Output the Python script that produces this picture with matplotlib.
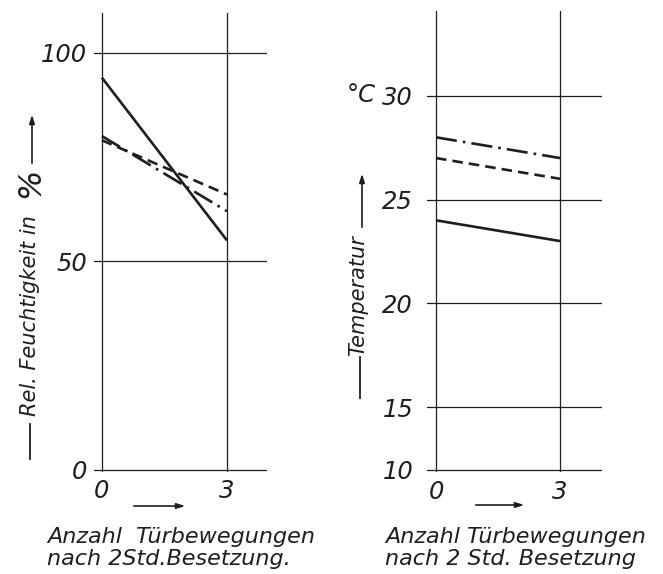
import numpy as np
import matplotlib
matplotlib.use("Agg")
import matplotlib.pyplot as plt
from matplotlib.lines import Line2D
from matplotlib.patches import FancyArrowPatch

# ---- data ----
x_vals = [0, 3]
x_ticklabels = ["0", "3"]

hum_solid = [94, 55]
hum_dashdot = [80, 62]
hum_dashed = [79, 66]
hum_ticks = [0, 50, 100]
hum_ticklabels = ["0", "50", "100"]

temp_dashdot = [28, 27]
temp_dashed = [27, 26]
temp_solid = [24, 23]
temp_ticks = [10, 15, 20, 25, 30]
temp_ticklabels = ["10", "15", "20", "25", "30"]

xlabel_left = "Anzahl  Türbewegungen\nnach 2Std.Besetzung."
xlabel_right = "Anzahl Türbewegungen\nnach 2 Std. Besetzung"
ylabel_left = "Rel. Feuchtigkeit in"
ylabel_right = "Temperatur"

# ---- style ----
W, H = 663, 574
INK = "#1e1e1e"
FONT = dict(family="DejaVu Sans", style="italic", color=INK)
plt.rcParams["font.family"] = ["DejaVu Sans"]

fig = plt.figure(figsize=(W / 100, H / 100), dpi=100)
fig.patch.set_facecolor("white")


def fx(x):
    return x / W


def fy(y):
    return 1 - y / H


def ax_rect(x0, x1, y_top, y_bot):
    return [fx(x0), fy(y_bot), (x1 - x0) / W, (y_bot - y_top) / H]


grid_kw = dict(color=INK, lw=0.9)
data_kw = dict(color=INK, lw=1.9, solid_capstyle="butt", dash_capstyle="butt")

# ---------------- left panel ----------------
axL = fig.add_axes(ax_rect(94, 267, 13, 472))
axL.set_xlim(-0.19, 3.96)
axL.set_ylim(-0.5, 109.5)
for v in hum_ticks:
    axL.axhline(v, **grid_kw)
for v in x_vals:
    axL.axvline(v, **grid_kw)
axL.plot(x_vals, hum_solid, ls="-", **data_kw)
axL.plot(x_vals, hum_dashdot, dashes=(8, 2.3, 1, 2.3), **data_kw)
axL.plot(x_vals, hum_dashed, dashes=(4, 2.3), **data_kw)
axL.set_yticks(hum_ticks)
axL.set_yticklabels(hum_ticklabels, fontsize=17.5, **FONT)
axL.set_xticks(x_vals)
axL.set_xticklabels(x_ticklabels, fontsize=17.5, **FONT)
axL.tick_params(axis="y", length=0, pad=5)
axL.tick_params(axis="x", length=0, pad=5)
for s in axL.spines.values():
    s.set_visible(False)
axL.patch.set_alpha(0)

# ---------------- right panel ----------------
def fwd(v):
    v = np.asarray(v, dtype=float)
    return np.where(v < 15, 15 - (15 - v) * 0.606, v)


def inv(t):
    t = np.asarray(t, dtype=float)
    return np.where(t < 15, 15 - (15 - t) / 0.606, t)


axR = fig.add_axes(ax_rect(427, 602, 10.7, 472))
axR.set_yscale("function", functions=(fwd, inv))
axR.set_xlim(-0.218, 4.016)
axR.set_ylim(9.84, 34.1)
for v in temp_ticks:
    axR.axhline(v, **grid_kw)
for v in x_vals:
    axR.axvline(v, **grid_kw)
axR.plot(x_vals, temp_dashdot, dashes=(8, 2.3, 1, 2.3), **data_kw)
axR.plot(x_vals, temp_dashed, dashes=(4, 2.3), **data_kw)
axR.plot(x_vals, temp_solid, ls="-", **data_kw)
axR.set_yticks(temp_ticks)
axR.set_yticklabels(temp_ticklabels, fontsize=17.5, **FONT)
axR.yaxis.set_minor_locator(matplotlib.ticker.NullLocator())
axR.set_xticks(x_vals)
axR.set_xticklabels(x_ticklabels, fontsize=17.5, **FONT)
axR.tick_params(axis="y", length=0, pad=10)
axR.tick_params(axis="x", length=0, pad=6)
for s in axR.spines.values():
    s.set_visible(False)
axR.patch.set_alpha(0)

fig.text(fx(361), fy(95), "°C", fontsize=17.5, ha="center", va="center", **FONT)

# ---------------- axis titles ----------------
fig.text(fx(47), fy(548), xlabel_left, fontsize=16, ha="left", va="center",
         linespacing=1.15, **FONT)
fig.text(fx(385), fy(548), xlabel_right, fontsize=16, ha="left", va="center",
         linespacing=1.15, **FONT)

# x arrows
for (x0, x1, y) in [(131, 188, 506), (473, 527, 505)]:
    fig.add_artist(FancyArrowPatch((fx(x0), fy(y)), (fx(x1), fy(y)),
                                   transform=fig.transFigure,
                                   arrowstyle="-|>,head_length=5,head_width=1.6",
                                   color=INK, lw=1.2, mutation_scale=1))

# left y label
fig.add_artist(Line2D([fx(30), fx(30)], [fy(459), fy(424)], color=INK, lw=1.3,
                      transform=fig.transFigure))
fig.text(fx(30), fy(316), ylabel_left, rotation=90, fontsize=15,
         ha="center", va="center", **FONT)
fig.text(fx(31), fy(183), "%", rotation=90, fontsize=23,
         ha="center", va="center", **FONT)
fig.add_artist(FancyArrowPatch((fx(32), fy(166)), (fx(32), fy(112)),
                               transform=fig.transFigure,
                               arrowstyle="-|>,head_length=5,head_width=1.6",
                               color=INK, lw=1.2, mutation_scale=1))

# right y label
fig.add_artist(Line2D([fx(360), fx(360)], [fy(398), fy(357)], color=INK, lw=1.3,
                      transform=fig.transFigure))
fig.text(fx(358), fy(296), ylabel_right, rotation=90, fontsize=15,
         ha="center", va="center", **FONT)
fig.add_artist(FancyArrowPatch((fx(362), fy(230)), (fx(362), fy(171)),
                               transform=fig.transFigure,
                               arrowstyle="-|>,head_length=5,head_width=1.6",
                               color=INK, lw=1.2, mutation_scale=1))

fig.savefig("out.png", dpi=100, facecolor="white")
